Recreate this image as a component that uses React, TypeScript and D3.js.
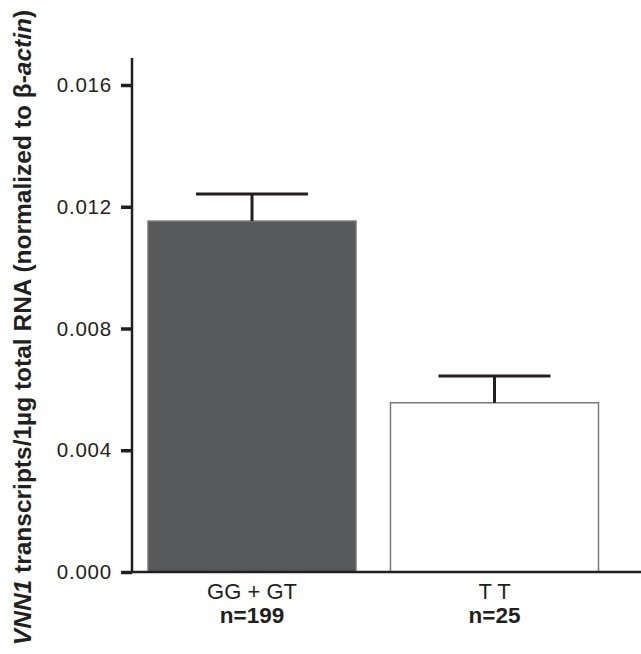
import { useEffect, useRef } from 'react';
import * as d3 from 'd3';

const categories = ['GG + GT', 'T T'];
const sampleSizes = ['n=199', 'n=25'];
const means = [0.01153, 0.00556];
const errorTops = [0.01242, 0.00644];
const yTicks = [0, 0.004, 0.008, 0.012, 0.016];

const barFills = ['#58595b', '#ffffff'];
const ink = '#231f20';

const App = () => {
  const svgRef = useRef<SVGSVGElement>(null);

  useEffect(() => {
    const svg = d3.select(svgRef.current);
    svg.selectAll('*').remove();

    const width = 641;
    const height = 654;
    const axisX = 132;
    const baseY = 572;

    const x = d3.scaleBand<string>()
      .domain(categories)
      .range([148, 598.5])
      .paddingInner(0.142)
      .paddingOuter(0);

    const y = d3.scaleLinear()
      .domain([0, 0.016])
      .range([baseY, 85]);

    const font = '"Liberation Sans", Arial, sans-serif';

    // Bars
    svg.selectAll('rect.bar')
      .data(categories)
      .enter()
      .append('rect')
      .attr('class', 'bar')
      .attr('x', d => x(d)!)
      .attr('y', (d, i) => y(means[i]))
      .attr('width', x.bandwidth())
      .attr('height', (d, i) => baseY - y(means[i]))
      .attr('fill', (d, i) => barFills[i])
      .attr('stroke', '#7a7a7a')
      .attr('stroke-width', 1.5);

    // Error bars (upper only)
    const capHalf = 56;
    categories.forEach((c, i) => {
      const cx = x(c)! + x.bandwidth() / 2;
      svg.append('line')
        .attr('x1', cx).attr('x2', cx)
        .attr('y1', y(means[i])).attr('y2', y(errorTops[i]))
        .attr('stroke', ink).attr('stroke-width', 3);
      svg.append('line')
        .attr('x1', cx - capHalf).attr('x2', cx + capHalf)
        .attr('y1', y(errorTops[i])).attr('y2', y(errorTops[i]))
        .attr('stroke', ink).attr('stroke-width', 3);
    });

    // Y axis
    const yAxis = svg.append('g')
      .attr('transform', `translate(${axisX},0)`)
      .call(d3.axisLeft(y).tickValues(yTicks).tickFormat(d3.format('.3f')).tickSize(11).tickPadding(9));
    yAxis.select('.domain').remove();
    yAxis.selectAll('.tick line').attr('stroke', ink).attr('stroke-width', 3.5);
    yAxis.selectAll('.tick text')
      .attr('fill', ink)
      .style('font-family', font)
      .style('font-size', '20.5px')
      .style('letter-spacing', '0.8px');

    svg.append('line')
      .attr('x1', axisX).attr('x2', axisX)
      .attr('y1', 58).attr('y2', baseY + 1)
      .attr('stroke', ink).attr('stroke-width', 2.5);

    // X axis line
    svg.append('line')
      .attr('x1', axisX - 1).attr('x2', width)
      .attr('y1', baseY).attr('y2', baseY)
      .attr('stroke', ink).attr('stroke-width', 2.5);

    // Category labels
    categories.forEach((c, i) => {
      const cx = x(c)! + x.bandwidth() / 2;
      svg.append('text')
        .attr('x', cx).attr('y', 599)
        .attr('text-anchor', 'middle')
        .attr('fill', ink)
        .style('font-family', font)
        .style('font-size', '22px')
        .text(c);
      svg.append('text')
        .attr('x', cx).attr('y', 623)
        .attr('text-anchor', 'middle')
        .attr('fill', ink)
        .style('font-family', font)
        .style('font-size', '22.5px')
        .style('font-weight', 'bold')
        .text(sampleSizes[i]);
    });

    // Y axis title
    const title = svg.append('text')
      .attr('transform', `translate(31,${(10 + 645) / 2}) rotate(-90)`)
      .attr('text-anchor', 'middle')
      .attr('fill', ink)
      .style('font-family', font)
      .style('font-size', '24.5px')
      .style('font-weight', 'bold');
    title.append('tspan').style('font-style', 'italic').text('VNN1');
    title.append('tspan').text(' transcripts/1µg total RNA (normalized to β-');
    title.append('tspan').style('font-style', 'italic').text('actin');
    title.append('tspan').text(')');

    svg.attr('width', width).attr('height', height);
  }, []);

  return (
    <svg
      ref={svgRef}
      width={641}
      height={654}
      style={{ position: 'absolute', left: 0, top: 0, background: '#fff' }}
    />
  );
};

export default App;
